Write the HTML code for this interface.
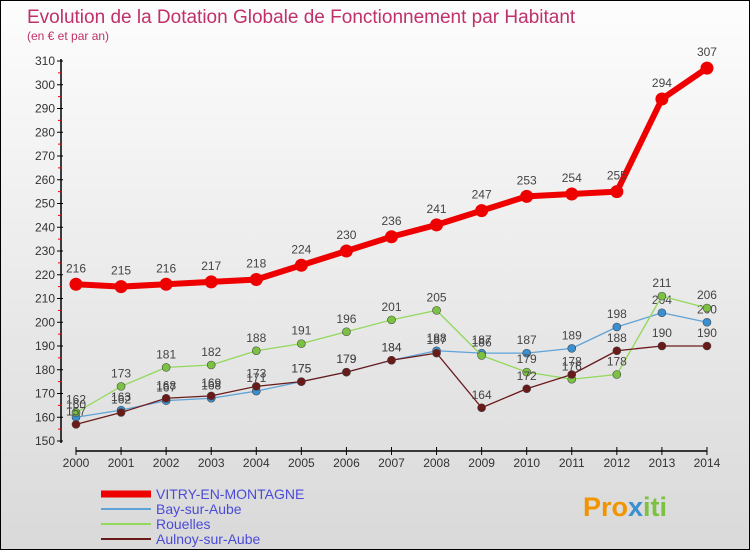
<!DOCTYPE html>
<html><head><meta charset="utf-8"><style>
body{margin:0}
#c{width:750px;height:550px;position:relative;overflow:hidden;border:1px solid #000;box-sizing:border-box;background:linear-gradient(#fdfdfd,#d9d9d9);font-family:"Liberation Sans",sans-serif}
</style></head><body>
<div id="c">
<svg id="s" width="750" height="550" xmlns="http://www.w3.org/2000/svg">
<text x="26" y="22" font-size="19" fill="#c0306a">Evolution de la Dotation Globale de Fonctionnement par Habitant</text>
<text x="26" y="39" font-size="12" fill="#c0306a">(en € et par an)</text>
<g id="axes"></g><g id="series"></g><g id="legend"></g>
<text x="582" y="515" font-size="27" font-weight="bold" fill="#f29400">Pro<tspan fill="#3a8fd0">x</tspan><tspan fill="#7cc242">iti</tspan></text>
</svg>
</div>
<script>
const years=[2000,2001,2002,2003,2004,2005,2006,2007,2008,2009,2010,2011,2012,2013,2014];
const vitry=[216,215,216,217,218,224,230,236,241,247,253,254,255,294,307];
const bay=[160,163,167,168,171,175,179,184,188,187,187,189,198,204,200];
const rouelles=[162,173,181,182,188,191,196,201,205,186,179,176,178,211,206];
const aulnoy=[157,162,168,169,173,175,179,184,187,164,172,178,188,190,190];
const yTicks=[150,160,170,180,190,200,210,220,230,240,250,260,270,280,290,300,310];
const seriesNames=["VITRY-EN-MONTAGNE","Bay-sur-Aube","Rouelles","Aulnoy-sur-Aube"];
const NS="http://www.w3.org/2000/svg";
function X(i){return 75+i*45.07;}
function Y(v){return 440-(v-150)*2.375;}
function mk(tag,attrs,parent,txt){const e=document.createElementNS(NS,tag);for(const k in attrs)e.setAttribute(k,attrs[k]);if(txt!==undefined)e.textContent=txt;parent.appendChild(e);return e;}
const ax=document.getElementById('axes');
let l=mk('line',{x1:60,y1:58,x2:60,y2:442,stroke:'#000','stroke-width':1.5},ax);


yTicks.forEach(v=>{
  mk('line',{x1:56,y1:Y(v),x2:62,y2:Y(v),stroke:'#000'},ax);
  if(v<310)mk('line',{x1:57,y1:Y(v+5),x2:61,y2:Y(v+5),stroke:'#e00'},ax);
  const t=mk('text',{x:54,y:Y(v)+4,'font-size':12,fill:'#333','text-anchor':'end'},ax,v);
  
  
});
l=mk('line',{x1:X(0),y1:450,x2:X(14),y2:450,stroke:'#000','stroke-width':1.5},ax);


years.forEach((y,i)=>{
  mk('line',{x1:X(i),y1:446,x2:X(i),y2:454,stroke:'#000'},ax);
  const t=mk('text',{x:X(i),y:466,'font-size':12,fill:'#333','text-anchor':'middle'},ax,y);
  
  
});
const sg=document.getElementById('series');
function draw(data,color,dot,w,r,name,lab){
  const g=mk('g',{},sg);
  
  
  mk('polyline',{points:data.map((v,i)=>X(i)+','+Y(v)).join(' '),fill:'none',stroke:color,'stroke-width':w,'stroke-linejoin':'round'},g);
  data.forEach((v,i)=>{
    const c=mk('circle',{cx:X(i),cy:Y(v),r:r,fill:dot,stroke:color==='#e00'?'#e00':'#444','stroke-width':color==='#e00'?0:0.6},g);
    
    
    const t=mk('text',{x:X(i),y:Y(v)-(lab||9),'font-size':12,fill:'#444','text-anchor':'middle'},g,v);
    
    
  });
}
draw(bay,'#5fa3d8','#3a8fd0',1.3,4,'series-bay');
draw(rouelles,'#92d85a','#7cc242',1.3,4,'series-rouelles');
draw(aulnoy,'#6b1a1a','#6b1a1a',1.3,4,'series-aulnoy');
draw(vitry,'#e00','#e00',6,6.5,'series-vitry',12);
const lg=document.getElementById('legend');
const lc=['#e00','#5fa3d8','#92d85a','#6b1a1a'];
const lw=[7,2,2,2];
seriesNames.forEach((n,i)=>{
  const y=493+i*15;
  const g=mk('g',{},lg);
  
  
  mk('line',{x1:100,y1:y,x2:150,y2:y,stroke:lc[i],'stroke-width':lw[i]},g);
  mk('text',{x:155,y:y+5,'font-size':14,fill:'#4b4bd8'},g,n);
});
</script>
</body></html>
